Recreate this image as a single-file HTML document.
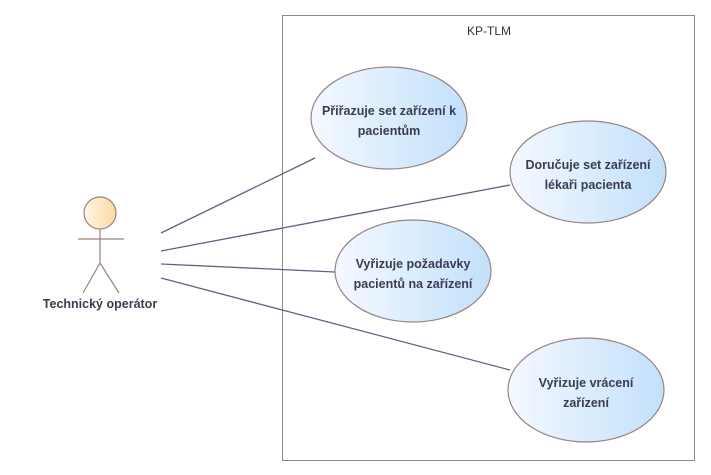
<!DOCTYPE html>
<html><head><meta charset="utf-8"><style>body{margin:0;background:#fff}svg{display:block}text{font-family:"Liberation Sans",sans-serif}</style></head><body>
<svg width="711" height="475" xmlns="http://www.w3.org/2000/svg">
<defs>
<linearGradient id="g" x1="0" y1="0" x2="1" y2="0"><stop offset="0" stop-color="#f4f9ff"/><stop offset="1" stop-color="#c3e0fb"/></linearGradient>
<linearGradient id="h" x1="0" y1="0" x2="1" y2="0"><stop offset="0" stop-color="#fff6e6"/><stop offset="1" stop-color="#fcd9a4"/></linearGradient>
</defs>
<rect x="282.5" y="15.5" width="412" height="445" fill="#fff" stroke="#9a8282" stroke-width="1"/>
<text x="489" y="35" font-size="12" text-anchor="middle" fill="#333">KP-TLM</text>
<g stroke="#5a6583" stroke-width="1.3">
<line x1="161" y1="233" x2="315" y2="158"/>
<line x1="161" y1="251" x2="510" y2="185"/>
<line x1="161" y1="264" x2="335" y2="272"/>
<line x1="161" y1="278" x2="510" y2="370"/>
</g>
<g fill="url(#g)" stroke="#9a8282" stroke-width="1.2">
<ellipse cx="389" cy="118" rx="78" ry="51"/>
<ellipse cx="588" cy="172" rx="78" ry="51"/>
<ellipse cx="413" cy="271" rx="78" ry="51"/>
<ellipse cx="586" cy="390" rx="78" ry="52"/>
</g>
<g font-size="12.5" font-weight="bold" fill="#3c3c50" text-anchor="middle">
<text x="389" y="115">Přiřazuje set zařízení k</text><text x="389" y="135">pacientům</text>
<text x="588" y="169">Doručuje set zařízení</text><text x="588" y="189">lékaři pacienta</text>
<text x="413" y="268">Vyřizuje požadavky</text><text x="413" y="288">pacientů na zařízení</text>
<text x="586" y="387">Vyřizuje vrácení</text><text x="586" y="407">zařízení</text>
</g>
<g stroke="#9a8282" stroke-width="1.2" fill="none">
<circle cx="100" cy="213" r="16" fill="url(#h)"/>
<line x1="78" y1="239" x2="124" y2="239"/>
<line x1="100" y1="229" x2="100" y2="263"/>
<polyline points="83,293 100,263 119,293"/>
</g>
<text x="100" y="308" font-size="12.5" font-weight="bold" fill="#3c3c50" text-anchor="middle">Technický operátor</text>
</svg>
</body></html>
